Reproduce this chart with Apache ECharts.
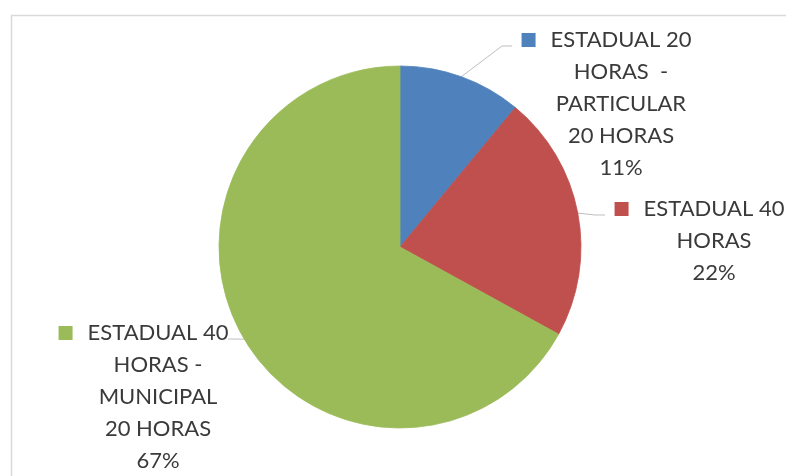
<!DOCTYPE html>
<html>
<head>
<meta charset="utf-8">
<script src="https://cdn.jsdelivr.net/npm/echarts@6/dist/echarts.min.js"></script>
<style>
  html, body { margin: 0; padding: 0; background: #ffffff; }
  #chart { width: 786px; height: 476px; }
</style>
</head>
<body>
<div id="chart"></div>
<script>
// Categories (each entry is the wrapped label text) and their shares in percent
const categories = [
  ['ESTADUAL 20', 'HORAS  -', 'PARTICULAR', '20 HORAS'],
  ['ESTADUAL 40', 'HORAS'],
  ['ESTADUAL 40', 'HORAS -', 'MUNICIPAL', '20 HORAS']
];
const values = [11, 22, 67];
const colors = ['#4F81BD', '#C0504D', '#9BBB59'];

// Where each label block sits: text centre x, top y, and which side of the pie
const labelSpots = [
  { cx: 621, top: 24, side: 'right' },
  { cx: 714, top: 193, side: 'right' },
  { cx: 158, top: 317, side: 'left' }
];

const SQ = 14, GAP = 15, PAD = SQ + GAP, LINE_H = 32;

const rich = {
  gap: { width: GAP },
  pad: { width: PAD },
  t: { fontSize: 22, lineHeight: LINE_H, color: '#3a3a3a', fontFamily: 'Lato' }
};
colors.forEach((c, i) => {
  rich['sq' + i] = { width: SQ, height: SQ, backgroundColor: c, verticalAlign: 'middle' };
});

const chart = echarts.init(document.getElementById('chart'), null, { renderer: 'canvas' });

chart.setOption({
  animation: false,
  backgroundColor: '#ffffff',
  graphic: [{
    type: 'rect',
    left: 9, top: 13,
    shape: { width: 800, height: 500 },
    style: { fill: 'none', stroke: '#d9d9d9', lineWidth: 1.5 },
    silent: true
  }],
  series: [{
    type: 'pie',
    center: [400, 247],
    radius: 181,
    startAngle: 90,
    clockwise: true,
    // a thin border in each slice's own colour hides the anti-aliasing seams
    data: values.map((v, i) => ({
      name: categories[i].join(' '),
      value: v,
      itemStyle: { color: colors[i], borderColor: colors[i], borderWidth: 0.8 }
    })),
    label: {
      show: true,
      position: 'outside',
      align: 'center',
      overflow: 'none',
      formatter: p => {
        const lines = categories[p.dataIndex];
        let s = '{sq' + p.dataIndex + '|}{gap|}{t|' + lines[0] + '}{pad|}';
        for (let k = 1; k < lines.length; k++) s += '\n{t|' + lines[k] + '}';
        s += '\n{t|' + p.value + '%}';
        return s;
      },
      rich: rich
    },
    labelLine: {
      show: true,
      length: 10,
      length2: 10,
      lineStyle: { color: '#bfbfbf', width: 1 }
    },
    emphasis: { disabled: true },
    labelLayout: params => {
      const spot = labelSpots[params.dataIndex];
      const start = params.labelLinePoints ? params.labelLinePoints[0] : null;
      const firstLineBottom = spot.top + LINE_H / 2 + 6;
      const out = { x: spot.cx, y: spot.top, align: 'center', verticalAlign: 'top' };
      if (start) {
        let end, elbow;
        if (spot.side === 'right') {
          end = [spot.cx - 100 - 9, firstLineBottom];
          elbow = [end[0] - 10, end[1]];
        } else {
          end = [spot.cx + 70, firstLineBottom];
          elbow = [end[0] + 2, end[1]];
        }
        out.labelLinePoints = [start, elbow, end];
      }
      return out;
    }
  }]
});
</script>
</body>
</html>
